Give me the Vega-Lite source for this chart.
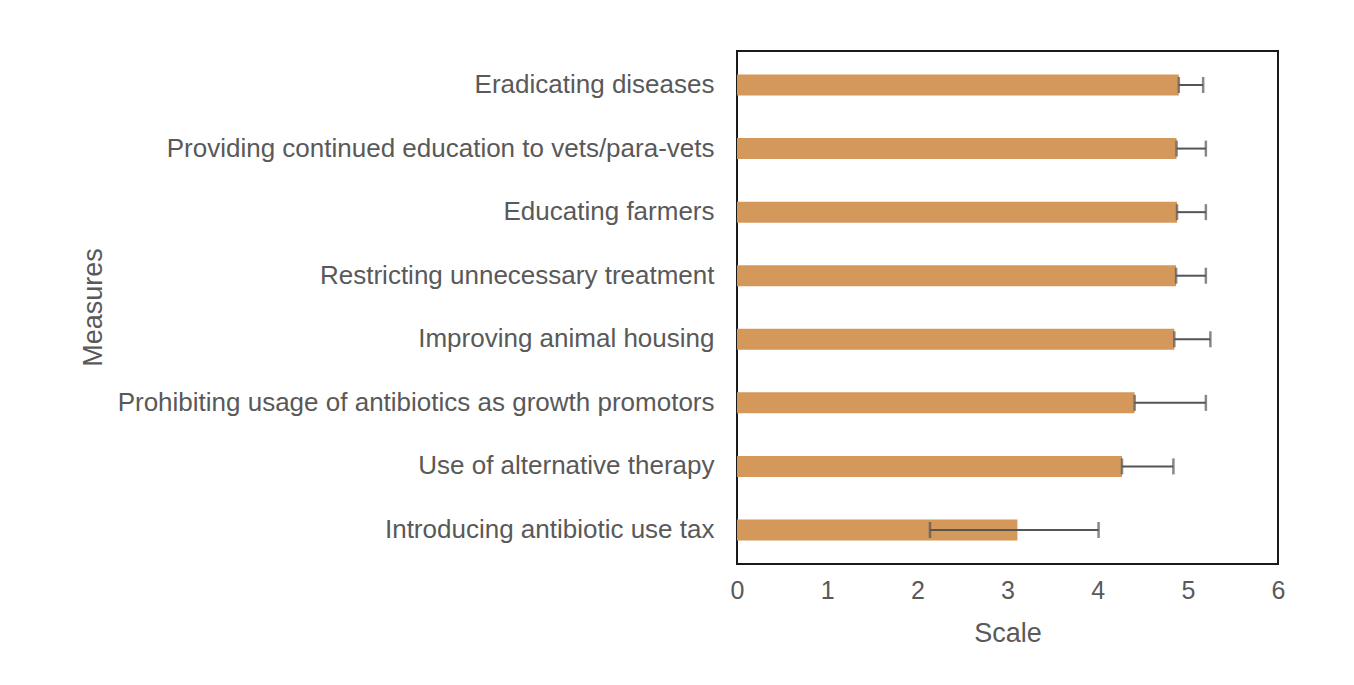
{
  "$schema": "https://vega.github.io/schema/vega-lite/v6.json",
  "autosize": "none",
  "width": 541,
  "height": 513,
  "padding": {"left": 737, "top": 51, "right": 76, "bottom": 121},
  "background": "#ffffff",
  "data": {
    "values": [
      {"measure": "Eradicating diseases", "mean": 4.90, "low": 4.90, "high": 5.17},
      {"measure": "Providing continued education to vets/para-vets", "mean": 4.875, "low": 4.875, "high": 5.20},
      {"measure": "Educating farmers", "mean": 4.88, "low": 4.88, "high": 5.20},
      {"measure": "Restricting unnecessary treatment", "mean": 4.87, "low": 4.87, "high": 5.20},
      {"measure": "Improving animal housing", "mean": 4.85, "low": 4.85, "high": 5.25},
      {"measure": "Prohibiting usage of antibiotics as growth promotors ", "mean": 4.41, "low": 4.41, "high": 5.20},
      {"measure": "Use of alternative therapy", "mean": 4.27, "low": 4.27, "high": 4.84},
      {"measure": "Introducing antibiotic use tax", "mean": 3.11, "low": 2.14, "high": 4.01}
    ]
  },
  "encoding": {
    "y": {
      "field": "measure",
      "type": "nominal",
      "sort": null,
      "title": "Measures",
      "scale": {"paddingInner": 0.67, "paddingOuter": 0.37},
      "axis": {
        "domain": false,
        "ticks": false,
        "labelPadding": 23,
        "labelFontSize": 26,
        "labelColor": "#595959",
        "labelLimit": 700,
        "titleFontSize": 27,
        "titleColor": "#595959",
        "titleFontWeight": "normal",
        "titleAngle": -90,
        "titleAlign": "center",
        "titleBaseline": "middle",
        "titleX": -644,
        "titleY": 256
      }
    }
  },
  "layer": [
    {
      "mark": {"type": "bar", "color": "#D4985A"},
      "encoding": {
        "x": {"field": "mean", "type": "quantitative", "title": "Scale", "scale": {"domain": [0, 6], "nice": false}}
      }
    },
    {
      "mark": {"type": "rule", "color": "#555555", "strokeWidth": 2},
      "encoding": {
        "x": {"field": "low", "type": "quantitative", "title": "Scale"},
        "x2": {"field": "high"}
      }
    },
    {
      "mark": {"type": "tick", "color": "#555555", "thickness": 2.5, "size": 16, "orient": "vertical"},
      "encoding": {
        "x": {"field": "low", "type": "quantitative", "title": "Scale"}
      }
    },
    {
      "mark": {"type": "tick", "color": "#555555", "thickness": 2.5, "size": 16, "orient": "vertical"},
      "encoding": {
        "x": {"field": "high", "type": "quantitative", "title": "Scale"}
      }
    }
  ],
  "config": {
    "font": "Liberation Sans",
    "view": {"stroke": "#1a1a1a", "strokeWidth": 2},
    "axis": {"grid": false},
    "axisX": {
      "domain": false,
      "ticks": false,
      "tickCount": 6,
      "labelFontSize": 25,
      "labelColor": "#595959",
      "labelPadding": 14,
      "labelFlush": false,
      "titleFontSize": 27,
      "titleColor": "#595959",
      "titleFontWeight": "normal",
      "titlePadding": 17
    }
  }
}
